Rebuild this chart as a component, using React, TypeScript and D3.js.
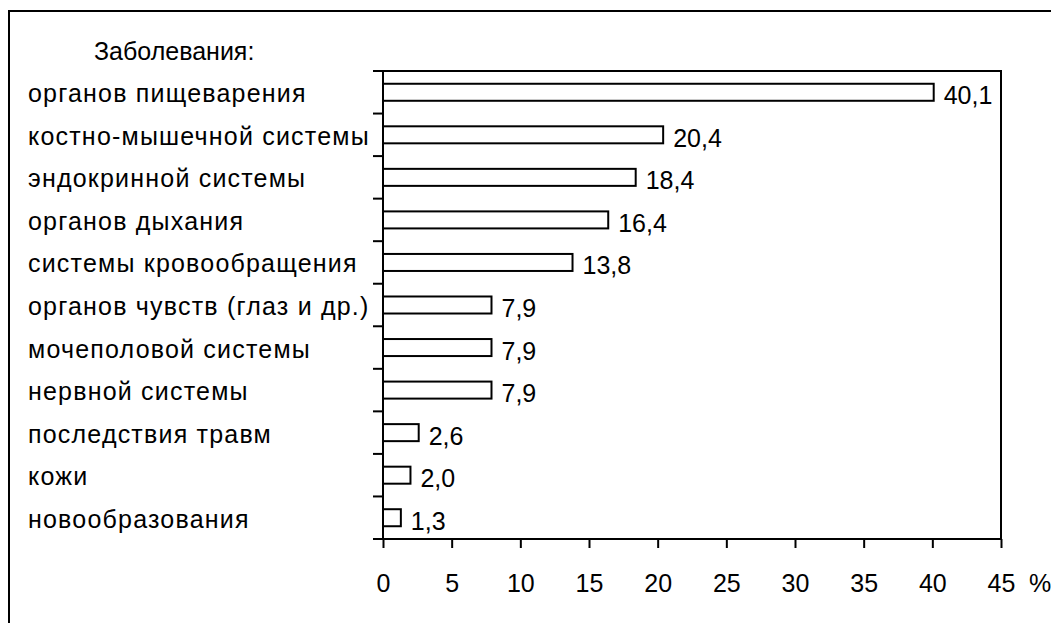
import React, { useEffect, useRef } from 'react'
import * as d3 from 'd3'

const categories = [
  'органов пищеварения',
  'костно-мышечной системы',
  'эндокринной системы',
  'органов дыхания',
  'системы кровообращения',
  'органов чувств (глаз и др.)',
  'мочеполовой системы',
  'нервной системы',
  'последствия травм',
  'кожи',
  'новообразования',
]
const values = [40.1, 20.4, 18.4, 16.4, 13.8, 7.9, 7.9, 7.9, 2.6, 2.0, 1.3]
const xTicks = [0, 5, 10, 15, 20, 25, 30, 35, 40, 45]
const heading = 'Заболевания:'
const unit = '%'

const W = 1051
const H = 623
const font = '"Liberation Sans", Arial, sans-serif'

export default function App() {
  const ref = useRef<SVGSVGElement | null>(null)

  useEffect(() => {
    if (!ref.current) return
    const svg = d3.select(ref.current)
    svg.selectAll('*').remove()

    const left = 383
    const right = 1001
    const top = 71
    const bottom = 539

    const x = d3.scaleLinear().domain([0, 45]).range([left, right])
    const y = d3.scaleBand<string>().domain(categories).range([top, bottom]).paddingInner(0.6).paddingOuter(0.3)
    const band = (bottom - top) / categories.length

    // outer frame (runs past the page edges)
    svg.append('rect')
      .attr('x', 9).attr('y', 11).attr('width', W + 20).attr('height', H + 20)
      .attr('fill', 'none').attr('stroke', '#000').attr('stroke-width', 2)

    svg.append('text')
      .attr('x', 94).attr('y', 60)
      .attr('font-size', 25).attr('font-family', font)
      .text(heading)

    // plot box
    svg.append('rect')
      .attr('x', left).attr('y', top).attr('width', right - left).attr('height', bottom - top)
      .attr('fill', 'none').attr('stroke', '#000').attr('stroke-width', 2)

    // category ticks on the left
    d3.range(categories.length + 1).forEach((i) => {
      const ty = top + i * band
      svg.append('line')
        .attr('x1', left - 10).attr('x2', left).attr('y1', ty).attr('y2', ty)
        .attr('stroke', '#000').attr('stroke-width', 2)
    })

    // bottom axis
    const axis = svg.append('g')
      .attr('transform', `translate(0,${bottom})`)
      .call(d3.axisBottom(x).tickValues(xTicks).tickSize(9).tickSizeOuter(0).tickFormat(d3.format('d')))
    axis.select('.domain').remove()
    axis.selectAll('line').attr('stroke', '#000').attr('stroke-width', 2)
    axis.selectAll('text')
      .attr('font-size', 25).attr('font-family', font).attr('fill', '#000')
      .attr('dy', null).attr('y', 53)

    svg.append('text')
      .attr('x', 1029).attr('y', bottom + 53)
      .attr('font-size', 25).attr('font-family', font)
      .text(unit)

    const rows = categories.map((c, i) => ({ c, v: values[i] }))

    svg.append('g').selectAll('rect').data(rows).join('rect')
      .attr('x', left)
      .attr('y', (d) => y(d.c)!)
      .attr('width', (d) => x(d.v) - left)
      .attr('height', y.bandwidth())
      .attr('fill', '#fff').attr('stroke', '#000').attr('stroke-width', 2)

    svg.append('g').selectAll('text').data(rows).join('text')
      .attr('x', (d) => x(d.v) + 10)
      .attr('y', (d) => y(d.c)! + y.bandwidth() / 2 + 12)
      .attr('font-size', 25).attr('font-family', font)
      .text((d) => d3.format('.1f')(d.v).replace('.', ','))

    svg.append('g').selectAll('text').data(categories).join('text')
      .attr('x', 28)
      .attr('y', (d) => y(d)! + y.bandwidth() / 2 + 10)
      .attr('font-size', 25).attr('font-family', font)
      .attr('letter-spacing', 1.2)
      .text((d) => d)

    // redraw the left axis line on top of bars
    svg.append('line')
      .attr('x1', left).attr('x2', left).attr('y1', top).attr('y2', bottom)
      .attr('stroke', '#000').attr('stroke-width', 2)
  }, [])

  return (
    <svg
      ref={ref}
      width={W}
      height={H}
      style={{ position: 'absolute', left: 0, top: 0, background: '#fff' }}
    />
  )
}
